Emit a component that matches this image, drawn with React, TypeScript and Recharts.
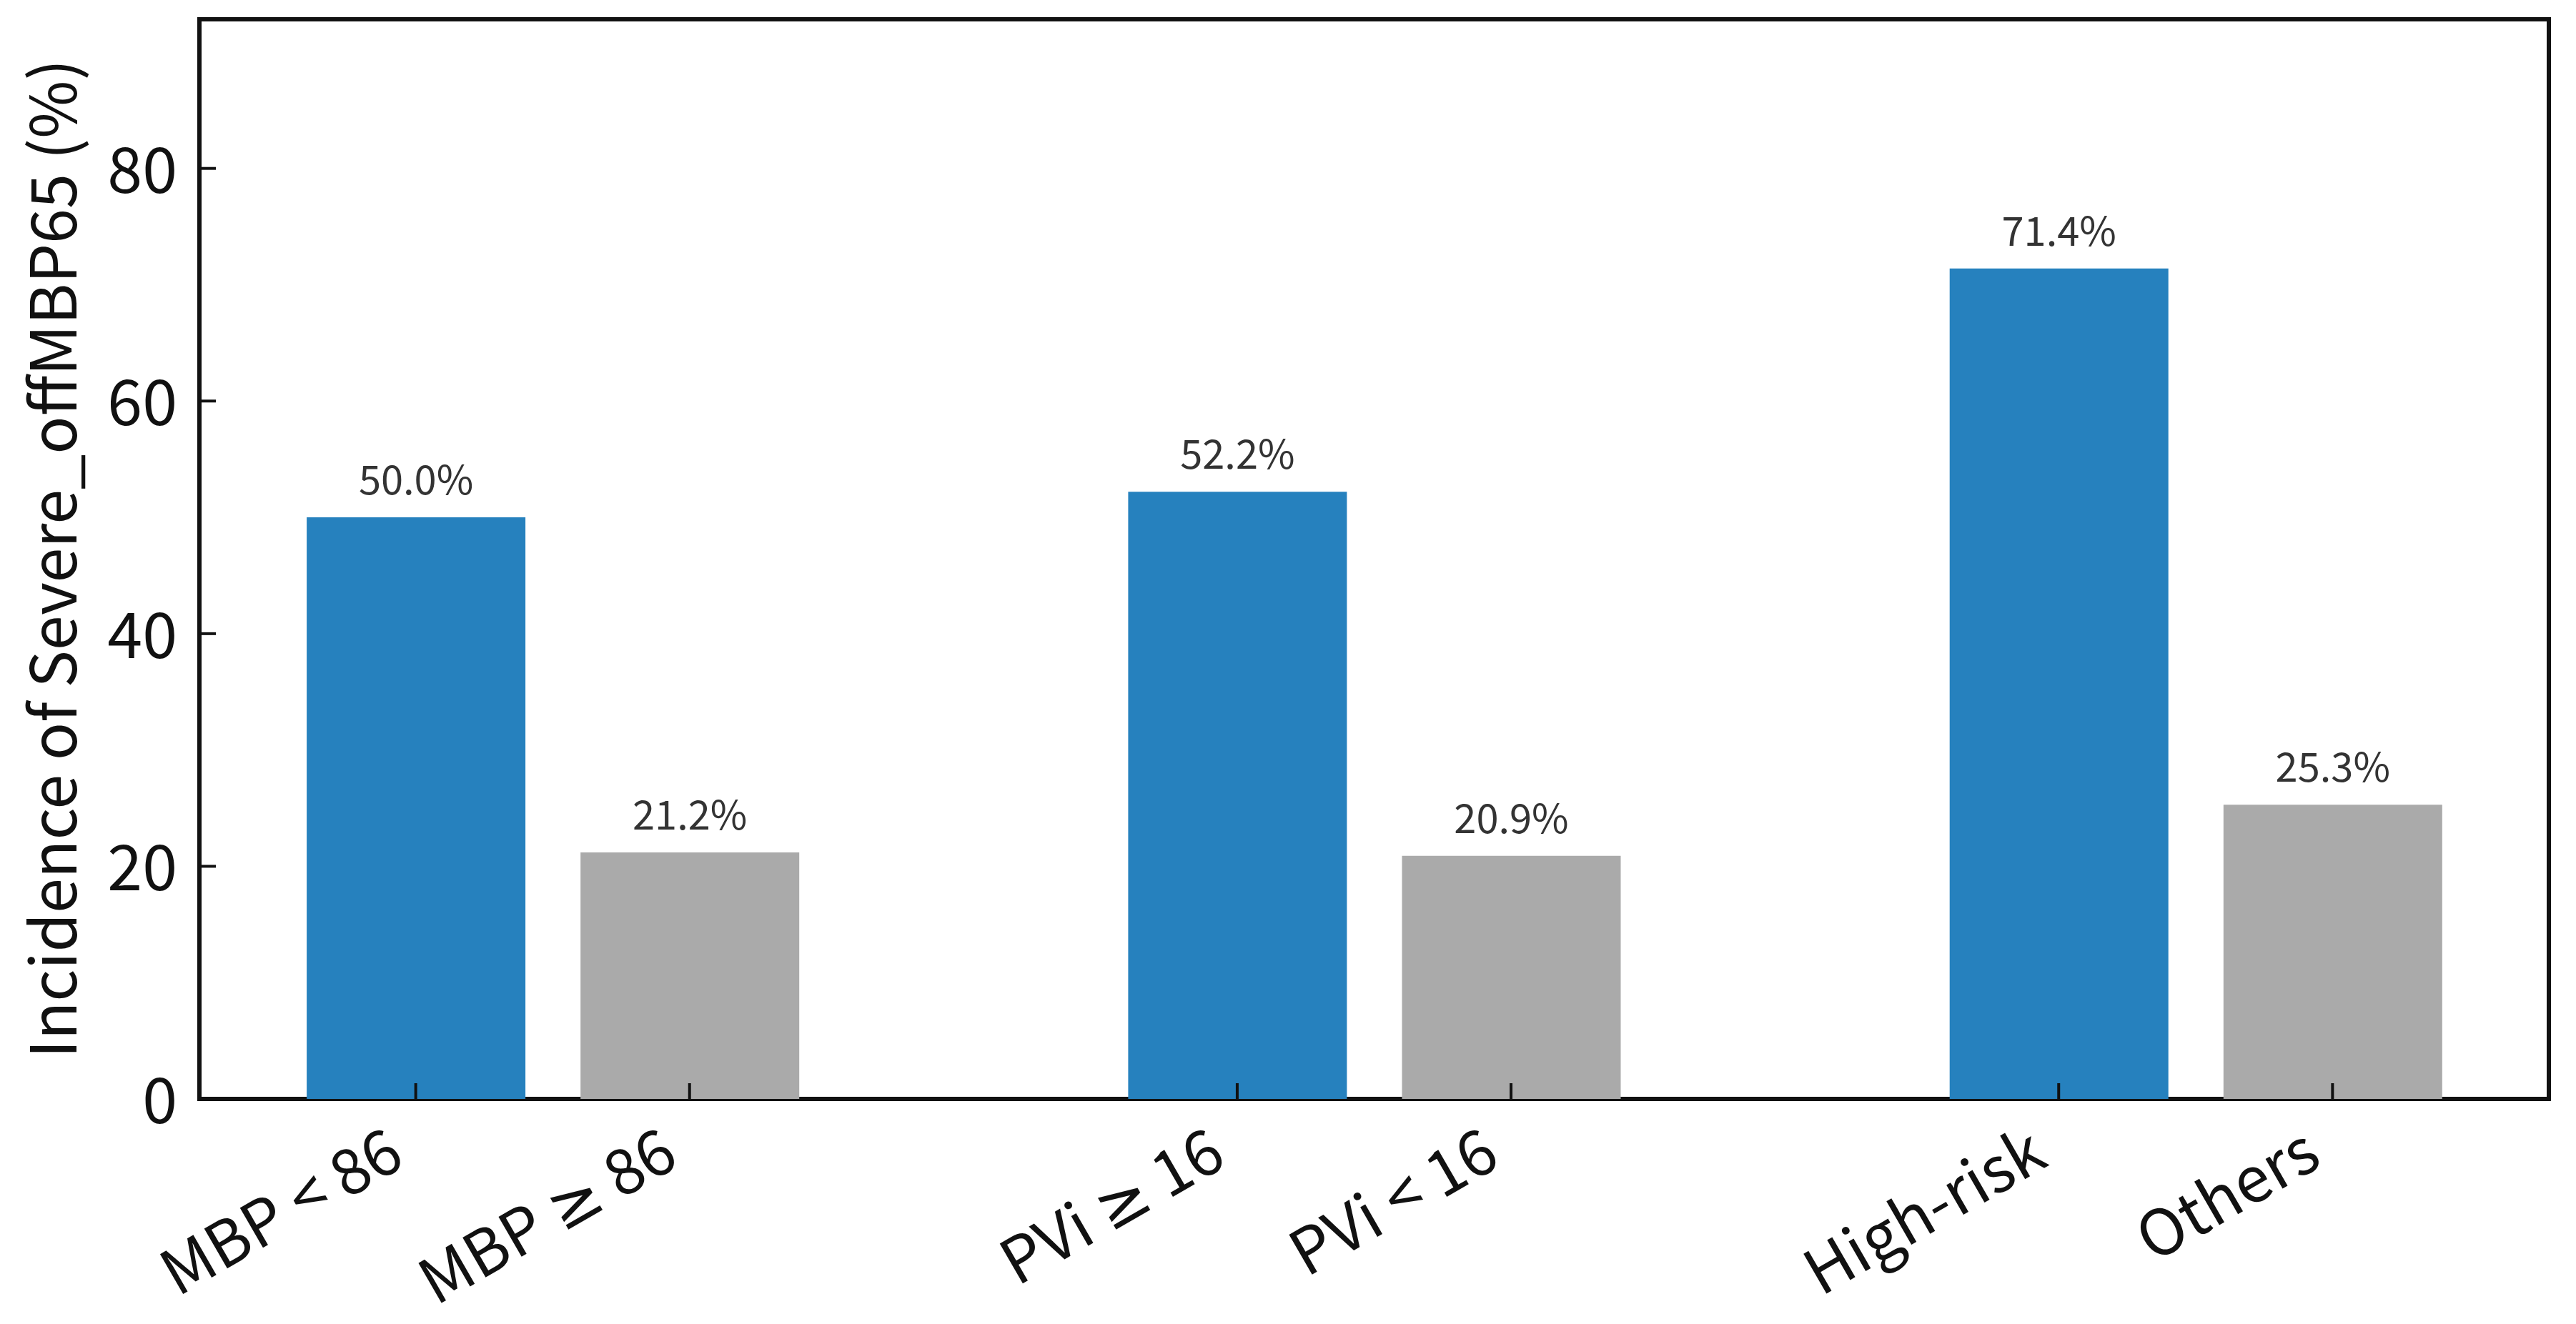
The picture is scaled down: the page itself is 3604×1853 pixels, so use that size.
import React from 'react';
import { BarChart, Bar, XAxis, YAxis, Cell, LabelList, ReferenceArea } from 'recharts';

// ---- data ----
const categories = ['MBP < 86', 'MBP ≥ 86', 'PVi ≥ 16', 'PVi < 16', 'High-risk', 'Others'];
const positions = [0, 1, 3, 4, 6, 7];
const incidence = [50.0, 21.2, 52.2, 20.9, 71.4, 25.3];
const roles = ['risk', 'ref', 'risk', 'ref', 'risk', 'ref'];
const yTicks = [0, 20, 40, 60, 80];
const yMax = 92.82;
const xDomain = [-0.79, 7.79];

const data = categories.map((name, i) => ({
  name,
  pos: positions[i],
  value: incidence[i],
  role: roles[i],
}));

// ---- style ----
const W = 3604;
const H = 1853;
const FONT = '"Noto Sans CJK SC", "Noto Sans", sans-serif';
const SYMBOL_FONT = '"DejaVu Sans", sans-serif';
const COLORS: Record<string, string> = { risk: '#2681be', ref: '#aaaaaa' };
const INK = '#111111';

const renderLabel = (label: string) => {
  const parts = label.split('≥');
  if (parts.length === 1) return label;
  return (
    <>
      <tspan>{parts[0]}</tspan>
      <tspan fontFamily={SYMBOL_FONT}>≥</tspan>
      <tspan>{parts[1]}</tspan>
    </>
  );
};

const XTick = (props: any) => {
  const { x, y, payload } = props;
  const idx = positions.indexOf(payload.value);
  const label = idx >= 0 ? categories[idx] : '';
  return (
    <g>
      <line x1={x} y1={y} x2={x} y2={y - 22} stroke={INK} strokeWidth={4} />
      <text
        transform={`translate(${x - 12},${y + 92}) rotate(-30)`}
        textAnchor="end"
        fontSize={88}
        fontFamily={FONT}
        fill={INK}
      >
        {renderLabel(label)}
      </text>
    </g>
  );
};

const YTick = (props: any) => {
  const { x, y, payload } = props;
  return (
    <g>
      <line x1={x} y1={y} x2={x + 23} y2={y} stroke={INK} strokeWidth={4} />
      <text x={x - 31} y={y + 34} textAnchor="end" fontSize={88} fontFamily={FONT} fill={INK}>
        {payload.value}
      </text>
    </g>
  );
};

const ValueLabel = (props: any) => {
  const { x, y, width, value } = props;
  return (
    <text
      x={x + width / 2}
      y={y - 32}
      textAnchor="middle"
      fontSize={56}
      fontFamily={FONT}
      fill="#333333"
    >
      {`${Number(value).toFixed(1)}%`}
    </text>
  );
};

export default function App() {
  return (
    <div style={{ position: 'absolute', left: 0, top: 0, width: W, height: H, background: '#fff' }}>
      <BarChart
        width={W}
        height={H}
        data={data}
        margin={{ top: 27, right: 38, bottom: 0, left: 0 }}
      >
        <Bar dataKey="value" barSize={306} isAnimationActive={false}>
          {data.map((d, i) => (
            <Cell key={i} fill={COLORS[d.role]} />
          ))}
          <LabelList dataKey="value" content={<ValueLabel />} />
        </Bar>
        <XAxis
          dataKey="pos"
          type="number"
          domain={xDomain}
          ticks={positions}
          allowDataOverflow
          height={315}
          tickSize={0}
          tickMargin={0}
          tickLine={false}
          axisLine={false}
          tick={<XTick />}
          interval={0}
        />
        <YAxis
          type="number"
          domain={[0, yMax]}
          ticks={yTicks}
          allowDataOverflow
          width={279}
          tickSize={0}
          tickMargin={0}
          tickLine={false}
          axisLine={false}
          tick={<YTick />}
          interval={0}
        />
        <ReferenceArea
          x1={xDomain[0]}
          x2={xDomain[1]}
          y1={0}
          y2={yMax}
          fill="none"
          fillOpacity={0}
          stroke={INK}
          strokeWidth={6}
          ifOverflow="visible"
        />
      </BarChart>
      <svg
        width={W}
        height={H}
        style={{ position: 'absolute', left: 0, top: 0, pointerEvents: 'none' }}
      >
        <text
          transform="translate(107,782) rotate(-90)"
          textAnchor="middle"
          fontSize={88}
          fontFamily={FONT}
          fill={INK}
        >
          Incidence of Severe_offMBP65 (%)
        </text>
      </svg>
    </div>
  );
}
